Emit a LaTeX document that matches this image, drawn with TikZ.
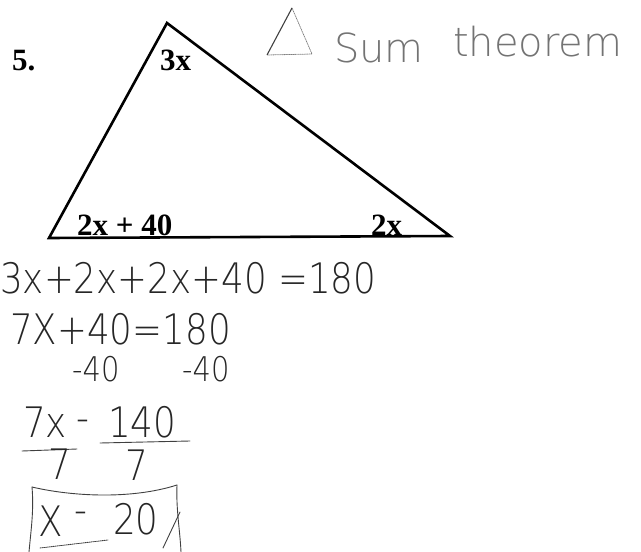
\documentclass[tikz,border=0pt]{standalone}
\usepackage{fontspec}
\setmainfont{Liberation Serif}
\newfontfamily\hand[FakeStretch=0.85]{DejaVu Sans ExtraLight}
\newfontfamily\handw{DejaVu Sans ExtraLight}
\begin{document}
\begin{tikzpicture}[x=1pt,y=-1pt,
  tri/.style={line width=2.6pt, line join=miter},
  printed/.style={font=\bfseries\fontsize{31}{31}\selectfont, inner sep=0pt, anchor=base west},
  hw/.style={font=\hand\fontsize{42}{42}\selectfont, text=black!85, inner sep=0pt, anchor=base west},
  hwsmall/.style={hw, font=\hand\fontsize{34}{34}\selectfont},
  faint/.style={font=\handw\fontsize{40}{40}\selectfont, text=black!55, inner sep=0pt, anchor=base west},
  pen/.style={line width=0.9pt, draw=black!75, line cap=round},
  faintpen/.style={line width=0.8pt, draw=black!50, densely dotted, line cap=round}]
\useasboundingbox (0,0) rectangle (641,552);
% printed triangle
\coordinate (A) at (167,23);
\coordinate (B) at (49,238);
\coordinate (C) at (450,236);
\draw[tri] (A) -- (B) -- (C) -- cycle;
\node[printed] (num) at (12,70) {5.};
\node[printed] (top) at (160,70) {3x};
\node[printed] (left) at (77,235) {2x + 40};
\node[printed] (right) at (371,235) {2x};
% handwritten heading
\coordinate (ha) at (292,8);
\coordinate (hb) at (267,55);
\coordinate (hc) at (312,54);
\draw[faintpen] (ha) -- (hc) -- (hb);
\draw[line width=1.1pt, draw=black!75] (ha) -- (hb);
\node[faint] (sum) at (334,62) {Sum};
\node[faint] (thm) at (453,56) {theorem};
% handwritten work
\node[hw] (l1) at (0,293) {3x+2x+2x+40 =180};
\node[hw] (l2) at (10,344) {7X+40=180};
\node[hwsmall] (l3a) at (72,381) {-40};
\node[hwsmall] (l3b) at (182,381) {-40};
\node[hw] (n1) at (23,437) {7x};
\node[hw] (eq) at (76,432) {-};
\node[hw] (n2) at (108,437) {140};
\coordinate (b1s) at (22,451);
\coordinate (b1e) at (77,449);
\coordinate (b2s) at (100,443);
\coordinate (b2e) at (190,441);
\draw[pen] (b1s) -- (b1e);
\draw[pen] (b2s) -- (b2e);
\node[hw] (d1) at (48,479) {7};
\node[hw] (d2) at (125,480) {7};
\node[hw] (xs) at (38,536) {X};
\node[hw] (eq2) at (74,524) {-};
\node[hw] (tw) at (113,534) {20};
% box round the answer
\coordinate (k1) at (32,487);
\coordinate (k2) at (177,485);
\coordinate (k3) at (181,552);
\coordinate (k4) at (29,552);
\coordinate (k5) at (40,548);
\coordinate (k6) at (108,540);
\coordinate (s1) at (180,512);
\coordinate (s2) at (163,548);
\draw[pen] (k1) .. controls (70,496) and (130,500) .. (k2);
\draw[pen] (k1) .. controls (34,510) and (31,530) .. (k4);
\draw[pen] (k2) .. controls (176,510) and (180,530) .. (k3);
\draw[pen, densely dotted] (k5) -- (k6);
\draw[pen] (s1) -- (s2);
\end{tikzpicture}
\end{document}
